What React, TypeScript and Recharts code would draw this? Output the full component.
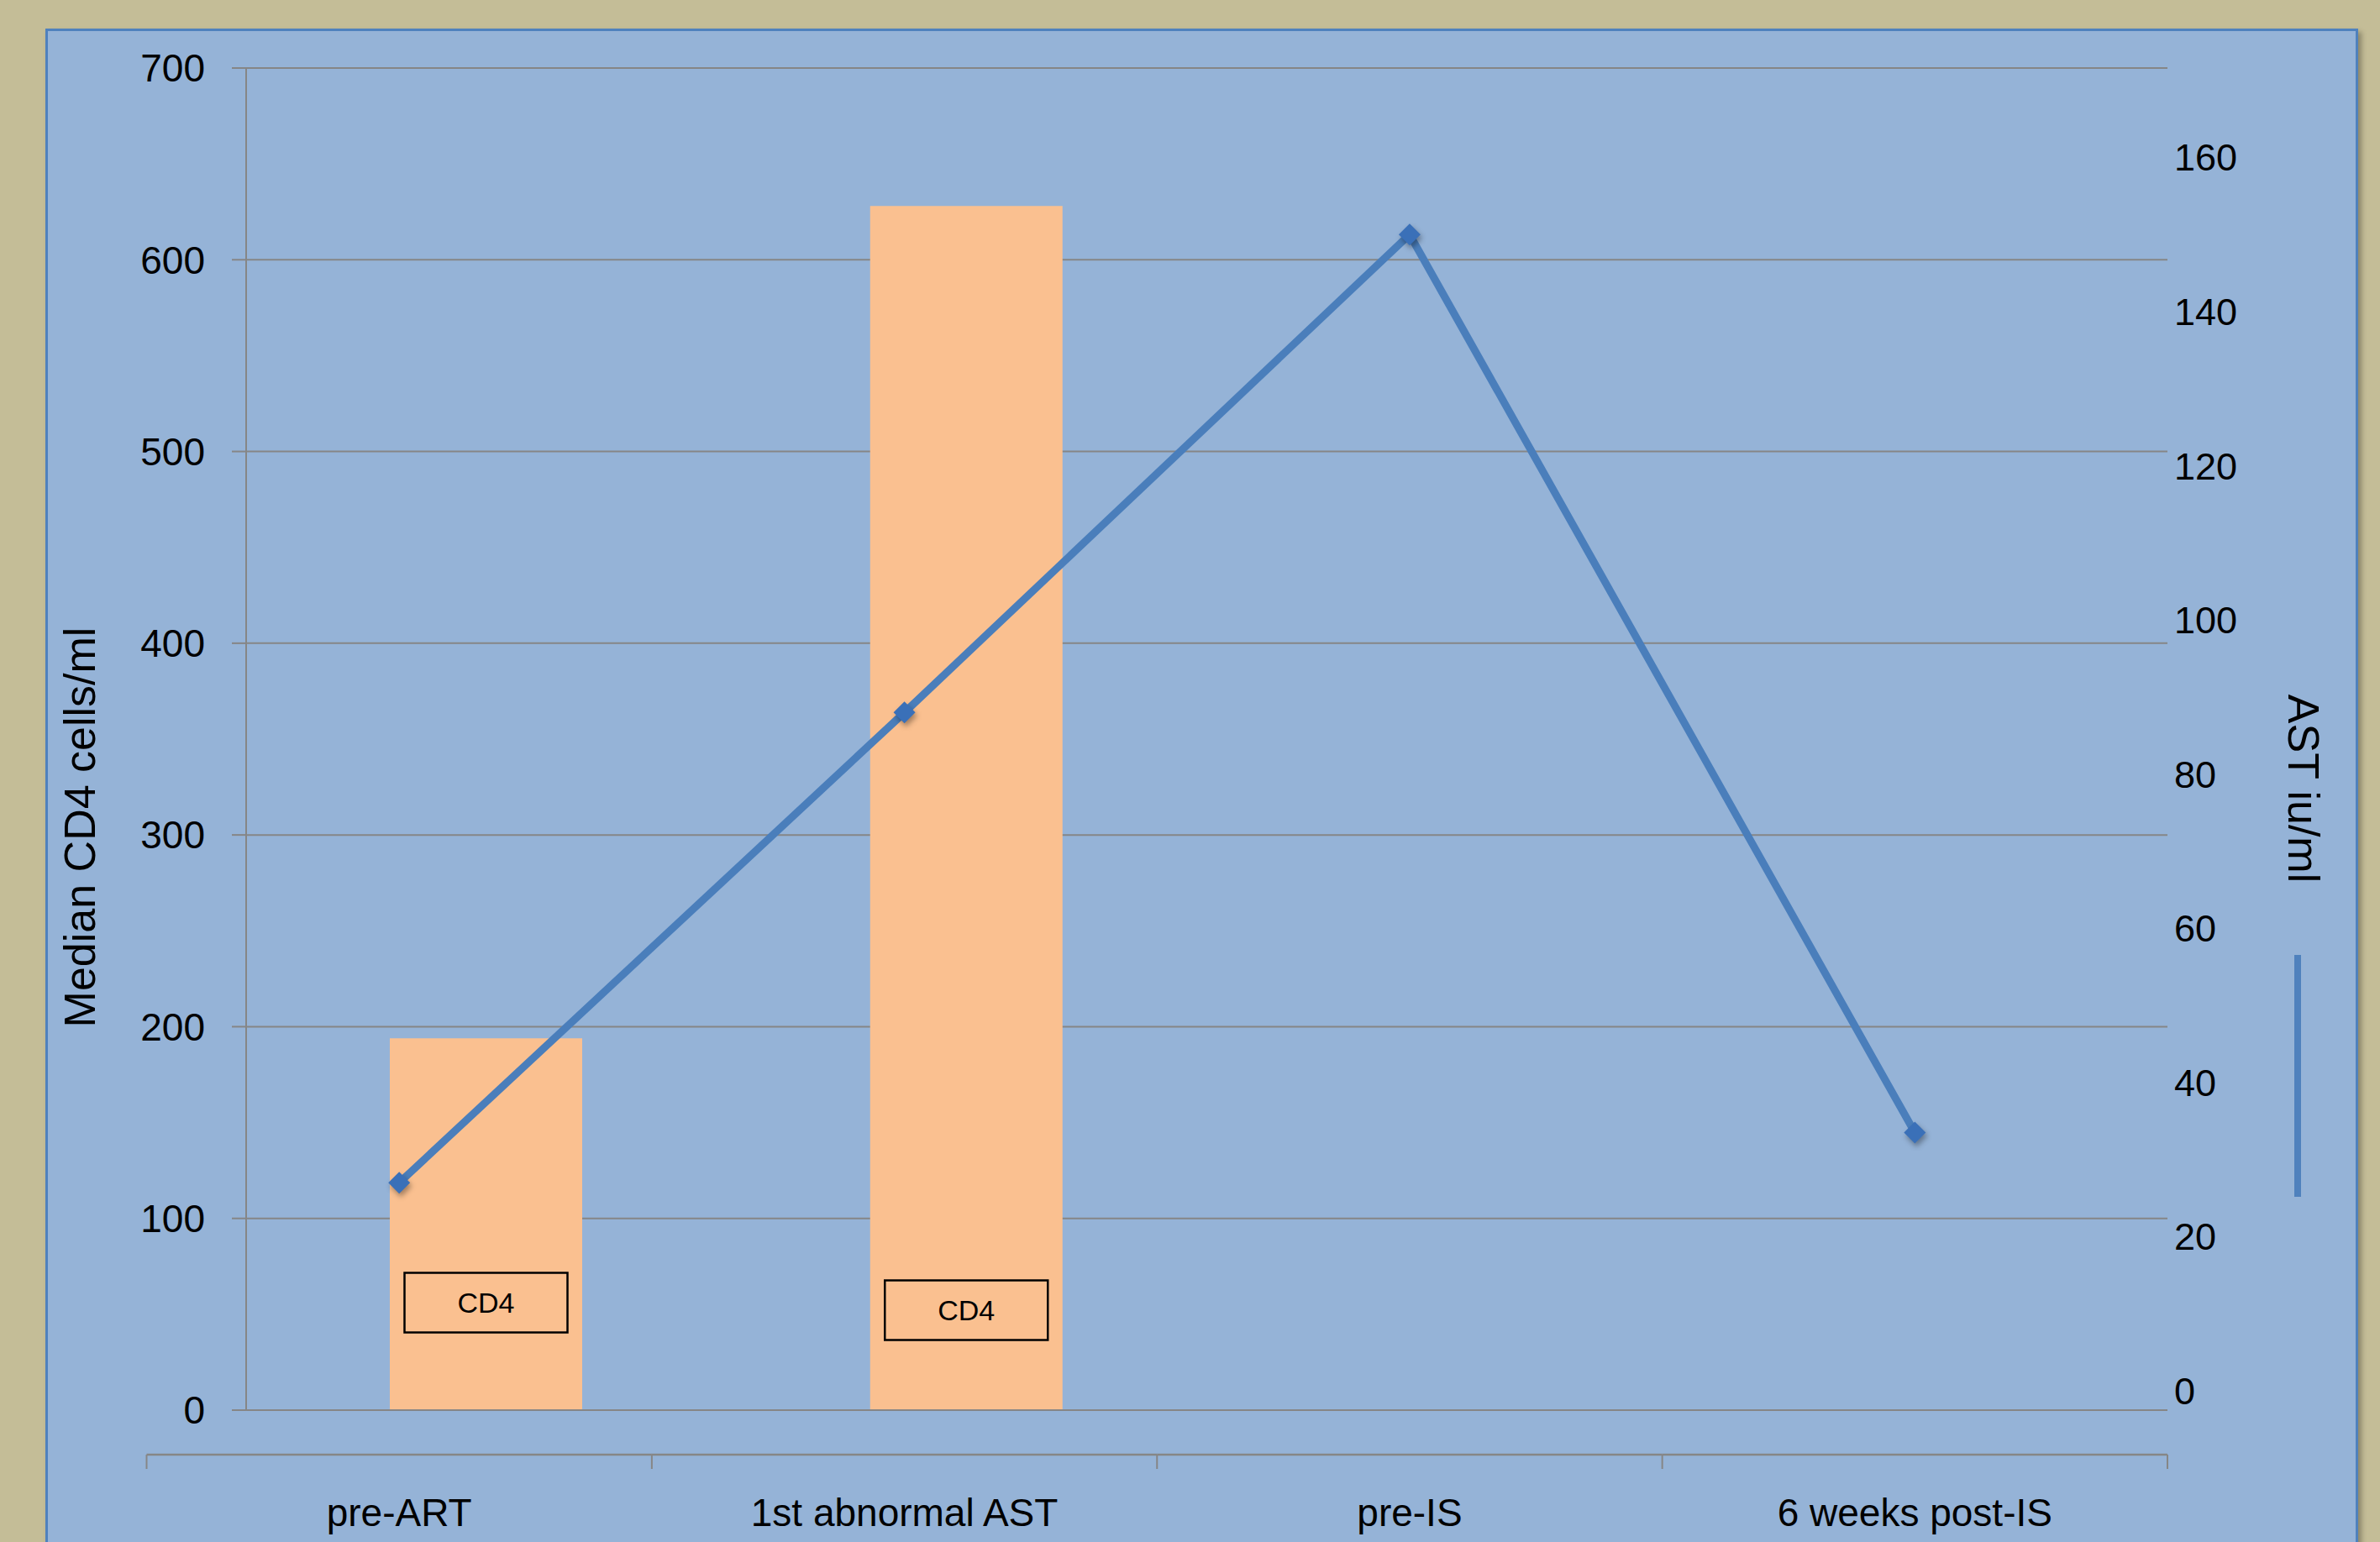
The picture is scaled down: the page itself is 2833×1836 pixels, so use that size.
import React from 'react';
import { ComposedChart, Bar, Line, XAxis, YAxis, CartesianGrid, LabelList } from 'recharts';

// ---------- data ----------
const categories = ['pre-ART', '1st abnormal AST', 'pre-IS', '6 weeks post-IS'];
const cd4Values: (number | null)[] = [194, 628, null, null];
const astValues: number[] = [27, 88, 150, 33.5];
const cd4Ticks = [0, 100, 200, 300, 400, 500, 600, 700];
const astTicks = [0, 20, 40, 60, 80, 100, 120, 140, 160];
const barSeriesName = 'CD4';
const leftTitle = 'Median CD4 cells/ml';
const rightTitle = 'AST iu/ml';

const data = categories.map((c, i) => ({ category: c, cd4: cd4Values[i], ast: astValues[i] }));

// ---------- layout ----------
const W = 2833;
const H = 1836;
const LEFT_AXIS_W = 293;
const RIGHT_AXIS_W = 253;
const PLOT_RIGHT = W - RIGHT_AXIS_W;
const LINE_AXIS_LEFT = 174.5;
const LINE_BAND = (PLOT_RIGHT - LINE_AXIS_LEFT) / categories.length;
const GRID = '#868686';
const FONT = '"Liberation Sans", Arial, sans-serif';

const LineAxisTick = (props: any) => {
  const { x, y, payload, index } = props;
  const half = LINE_BAND / 2;
  const last = index === categories.length - 1;
  return (
    <g>
      <line x1={x - half} x2={x + half} y1={y} y2={y} stroke={GRID} strokeWidth={2.5} />
      <line x1={x - half} x2={x - half} y1={y} y2={y + 17} stroke={GRID} strokeWidth={2} />
      {last && <line x1={x + half} x2={x + half} y1={y} y2={y + 17} stroke={GRID} strokeWidth={2} />}
      <text x={x} y={y + 68} dy="0.36em" textAnchor="middle" fontSize={46} fontFamily={FONT} fill="#000">
        {payload.value}
      </text>
    </g>
  );
};

const renderDiamond = (props: any) => {
  const { cx, cy, index } = props;
  if (cx == null || cy == null) return <g key={`d-${index}`} />;
  const r = 13;
  return (
    <path
      key={`d-${index}`}
      d={`M${cx},${cy - r}L${cx + r},${cy}L${cx},${cy + r}L${cx - r},${cy}Z`}
      fill="#3A70B8"
      style={{ filter: 'drop-shadow(2px 4px 3px rgba(0,0,0,0.35))' }}
    />
  );
};

const renderBoxLabel = (props: any) => {
  const { x, y, width, height, value, index } = props;
  if (value == null) return null;
  const cx = Number(x) + Number(width) / 2;
  const cy = Number(y) + Number(height) - (index === 0 ? 128 : 119);
  const bw = 194;
  const bh = 71;
  return (
    <g>
      <rect x={cx - bw / 2} y={cy - bh / 2} width={bw} height={bh} fill="none" stroke="#000" strokeWidth={2.5} />
      <text x={cx} y={cy} dy="0.36em" textAnchor="middle" fontSize={34} fontFamily={FONT} fill="#000">
        {barSeriesName}
      </text>
    </g>
  );
};

const leftLabel = (props: any) => {
  const vb = props.viewBox || {};
  const x = vb.x + 94;
  const y = vb.y + vb.height / 2 + 105;
  return (
    <text x={x} y={y} transform={`rotate(-90 ${x} ${y})`} textAnchor="middle" dy="0.36em" fontSize={52} fontFamily={FONT} fill="#000">
      {leftTitle}
    </text>
  );
};

const rightLabel = (props: any) => {
  const vb = props.viewBox || {};
  const x = vb.x + 163;
  const y = vb.y + vb.height / 2 + 59;
  return (
    <text x={x} y={y} transform={`rotate(90 ${x} ${y})`} textAnchor="middle" dy="0.36em" fontSize={52} fontFamily={FONT} fill="#000">
      {rightTitle}
    </text>
  );
};

export default function App() {
  return (
    <div style={{ position: 'absolute', left: 0, top: 0, width: W, height: H, background: '#C4BD97', overflow: 'hidden' }}>
      <div
        style={{
          position: 'absolute',
          left: 54,
          top: 34,
          width: 2807 - 54,
          height: 1900,
          background: '#95B3D7',
          border: '3px solid #4F81BD',
          boxSizing: 'border-box',
          boxShadow: '4px 4px 6px rgba(0,0,0,0.3)',
        }}
      />
      <div style={{ position: 'absolute', left: 2731, top: 1137, width: 8, height: 288, background: '#4F81BD' }} />
      <div style={{ position: 'absolute', left: 0, top: 0 }}>
        <ComposedChart width={W} height={H} data={data} margin={{ top: 81, right: 0, bottom: 0, left: 0 }}>
          <CartesianGrid horizontal vertical={false} stroke={GRID} strokeWidth={2} xAxisId="bar" yAxisId="left" />
          <XAxis
            xAxisId="bar"
            dataKey="category"
            height={53}
            tick={false}
            tickLine={false}
            axisLine={{ stroke: GRID, strokeWidth: 2 }}
          />
          <XAxis
            xAxisId="line"
            dataKey="category"
            height={104}
            padding={{ left: -(LEFT_AXIS_W - LINE_AXIS_LEFT), right: 0 }}
            axisLine={false}
            tickLine={false}
            tickSize={0}
            tickMargin={0}
            interval={0}
            tick={<LineAxisTick />}
          />
          <YAxis
            yAxisId="left"
            orientation="left"
            width={LEFT_AXIS_W}
            domain={[0, 700]}
            ticks={cd4Ticks}
            tickSize={17}
            tickMargin={32}
            tickLine={{ stroke: GRID, strokeWidth: 2 }}
            axisLine={{ stroke: GRID, strokeWidth: 2 }}
            tick={{ fontSize: 46, fontFamily: FONT, fill: '#000' }}
            label={{ content: leftLabel }}
          />
          <YAxis
            yAxisId="right"
            orientation="right"
            width={RIGHT_AXIS_W}
            domain={[-2.5, 171.6]}
            ticks={astTicks}
            tickSize={0}
            tickMargin={8}
            tickLine={false}
            axisLine={false}
            tick={{ fontSize: 45, fontFamily: FONT, fill: '#000', textAnchor: 'start' }}
            label={{ content: rightLabel }}
          />
          <Bar xAxisId="bar" yAxisId="left" dataKey="cd4" name={barSeriesName} barSize={229} fill="#FAC090" isAnimationActive={false}>
            <LabelList dataKey="cd4" content={renderBoxLabel} />
          </Bar>
          <Line
            xAxisId="line"
            yAxisId="right"
            type="linear"
            dataKey="ast"
            stroke="#4A7EBB"
            strokeWidth={9}
            dot={renderDiamond}
            activeDot={false}
            isAnimationActive={false}
          />
        </ComposedChart>
      </div>
    </div>
  );
}
